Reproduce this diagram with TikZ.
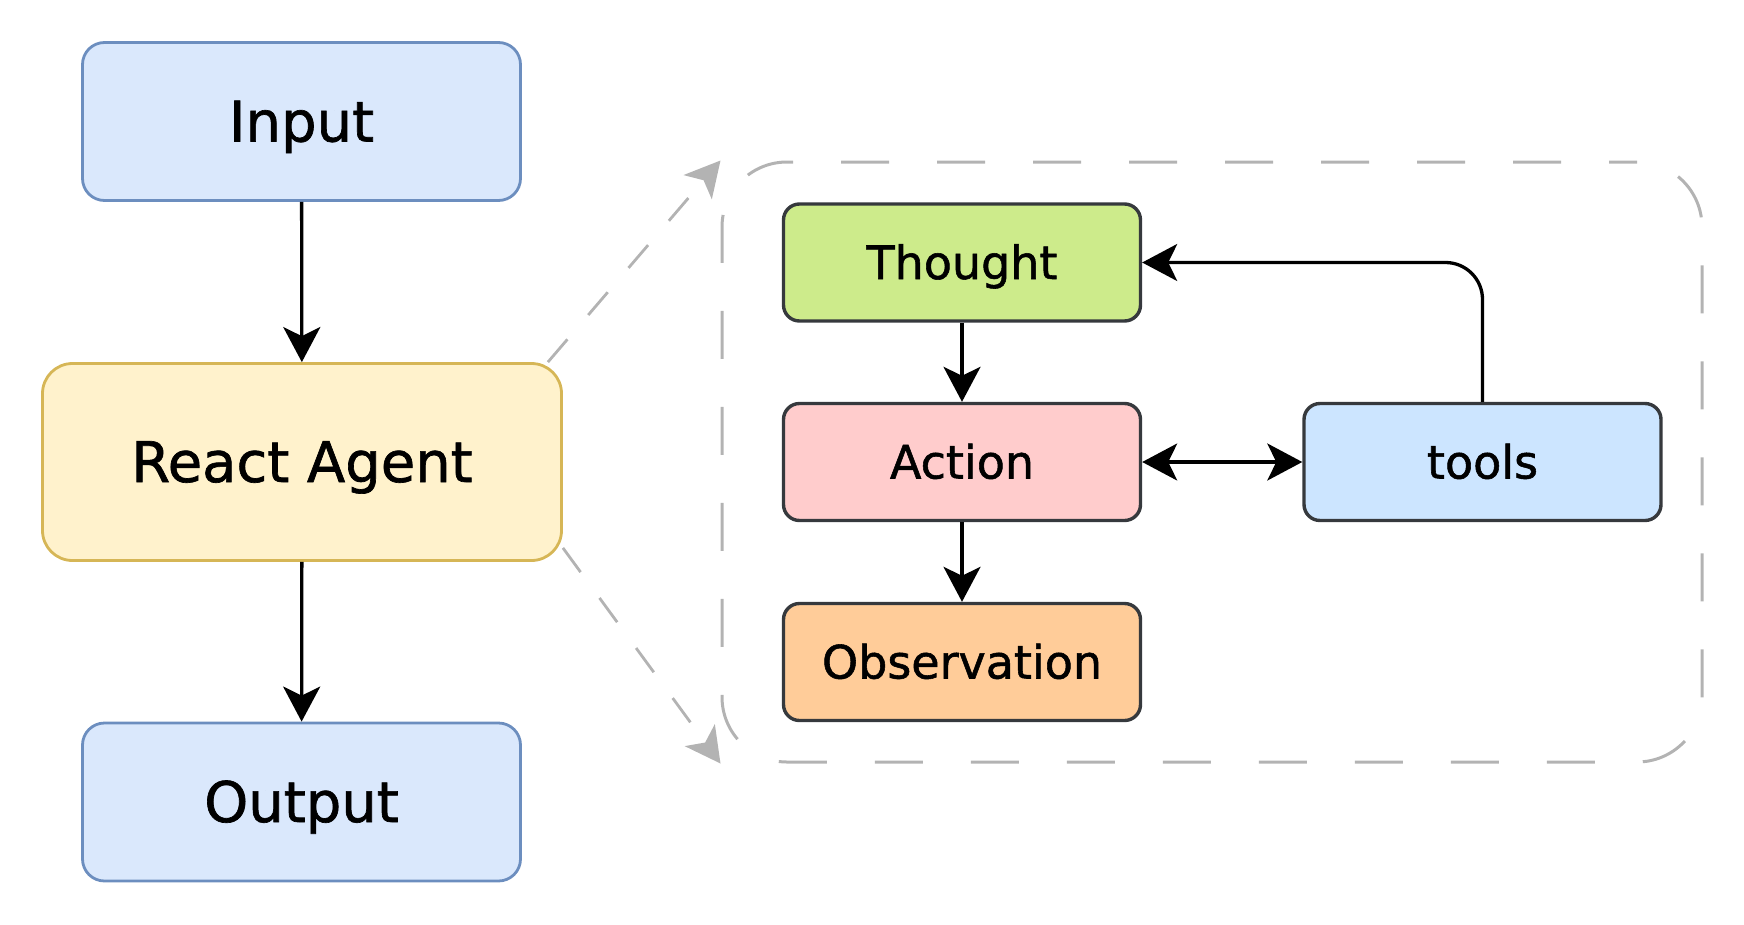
\documentclass[tikz,border=0pt]{standalone}
\usepackage{fontspec}
\setmainfont{DejaVu Sans}
\newfontfamily\heavyfont{DejaVu Sans}[FakeBold=1.2]
\usetikzlibrary{arrows.meta,calc}
\definecolor{bluefill}{HTML}{DAE8FC}
\definecolor{bluedraw}{HTML}{6C8EBF}
\definecolor{yelfill}{HTML}{FFF2CC}
\definecolor{yeldraw}{HTML}{D6B656}
\definecolor{greenfill}{HTML}{CDEB8B}
\definecolor{pinkfill}{HTML}{FFCCCC}
\definecolor{orangefill}{HTML}{FFCC99}
\definecolor{toolfill}{HTML}{CCE5FF}
\definecolor{darkline}{HTML}{36393D}
\definecolor{dashgray}{HTML}{B3B3B3}
\tikzset{
  outerbox/.style={draw=bluedraw, fill=bluefill, line width=2.8pt, rounded corners=22pt,
    minimum width=438pt, minimum height=158pt, inner sep=0pt,
    text height=40pt, text depth=0pt,
    font=\heavyfont\fontsize{56}{60}\selectfont},
  agentbox/.style={draw=yeldraw, fill=yelfill, line width=2.8pt, rounded corners=30pt,
    minimum width=519pt, minimum height=197pt, inner sep=0pt,
    text height=40pt, text depth=0pt,
    font=\heavyfont\fontsize{56}{60}\selectfont},
  innerbox/.style={draw=darkline, line width=3.4pt, rounded corners=16pt,
    minimum width=357pt, minimum height=117pt, inner sep=0pt,
    text height=33pt, text depth=0pt,
    font=\heavyfont\fontsize{46}{50}\selectfont},
  loopbox/.style={draw=dashgray, line width=3pt, rounded corners=65pt,
    dash pattern=on 48pt off 48pt, dash phase=20pt,
    minimum width=980pt, minimum height=600pt, inner sep=0pt},
  arr/.style={line width=3.3pt, -{Stealth[length=35pt,width=37pt,inset=9pt]}},
  dblarr/.style={line width=3.3pt, {Stealth[length=35pt,width=37pt,inset=9pt]}-{Stealth[length=35pt,width=37pt,inset=9pt]}},
  grayarr/.style={draw=dashgray, line width=2.8pt, dash pattern=on 30pt off 32pt,
    -{Stealth[length=35pt,width=37pt,inset=9pt,fill=dashgray]}},
}
\begin{document}
\begin{tikzpicture}[x=1pt,y=-1pt]
\path[use as bounding box] (0,0) rectangle (1744,924);

% dashed container
\node[loopbox] (loop) at (1212,462) {};

% left column
\node[outerbox] (input) at (301.5,121.5) {Input};
\node[agentbox] (agent) at (302,462) {React Agent};
\node[outerbox] (output) at (301.5,802) {Output};

% inner nodes
\node[innerbox, fill=greenfill] (thought) at (962,262.5) {Thought};
\node[innerbox, fill=pinkfill] (action) at (962,462) {Action};
\node[innerbox, fill=orangefill] (obs) at (962,662) {Observation};
\node[innerbox, fill=toolfill] (tools) at (1482.5,462) {tools};

% connectors
\draw[arr] (input) -- (agent);
\draw[arr] (agent) -- (output);
\draw[arr] (thought) -- (action);
\draw[arr] (action) -- (obs);
\draw[dblarr] (action) -- (tools);
\draw[arr, rounded corners=37pt] (tools.north) |- (thought.east);

% zoom arrows
\draw[grayarr] ([xshift=-15pt]agent.north east) -- (loop.north west);
\draw[grayarr] ([yshift=14pt]agent.south east) -- (loop.south west);
\end{tikzpicture}
\end{document}
